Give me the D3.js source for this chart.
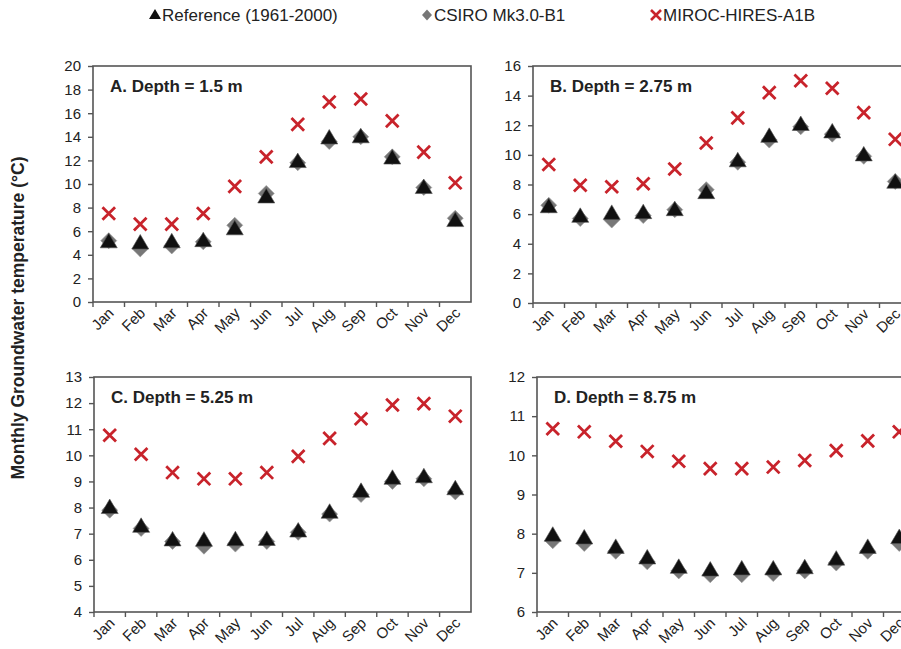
<!DOCTYPE html>
<html>
<head>
<meta charset="utf-8">
<script src="https://cdn.jsdelivr.net/npm/d3@7"></script>
<style>
  body { margin: 0; background: #fff; }
  svg text { font-family: "Liberation Sans", Arial, sans-serif; fill: #222; }
</style>
</head>
<body>
<div id="chart"></div>
<script>
var W = 901, H = 649;

// Data ======================================================
var months = ["Jan","Feb","Mar","Apr","May","Jun","Jul","Aug","Sep","Oct","Nov","Dec"];

var refA   = [5.1, 5.0, 5.1, 5.2, 6.2, 8.9, 11.9, 13.9, 14.0, 12.2, 9.7, 6.9];
var csiroA = [5.2, 4.5, 4.75, 5.1, 6.5, 9.2, 11.8, 13.6, 14.0, 12.3, 9.7, 7.1];
var mirocA = [7.5, 6.6, 6.6, 7.5, 9.8, 12.3, 15.05, 16.95, 17.2, 15.35, 12.7, 10.1];

var refB   = [6.5, 5.85, 6.05, 6.1, 6.3, 7.45, 9.6, 11.25, 12.05, 11.55, 10.0, 8.15];
var csiroB = [6.6, 5.7, 5.6, 5.9, 6.3, 7.65, 9.5, 11.0, 11.9, 11.4, 9.9, 8.2];
var mirocB = [9.35, 7.95, 7.85, 8.05, 9.05, 10.8, 12.5, 14.2, 15.0, 14.5, 12.85, 11.05];

var refC   = [8.0, 7.28, 6.76, 6.75, 6.77, 6.78, 7.1, 7.82, 8.62, 9.12, 9.18, 8.72];
var csiroC = [7.9, 7.2, 6.7, 6.52, 6.6, 6.7, 7.05, 7.75, 8.5, 9.0, 9.1, 8.6];
var mirocC = [10.77, 10.04, 9.34, 9.1, 9.1, 9.34, 9.96, 10.65, 11.4, 11.93, 11.98, 11.5];

var refD   = [7.96, 7.89, 7.65, 7.38, 7.14, 7.07, 7.1, 7.1, 7.13, 7.35, 7.65, 7.9];
var csiroD = [7.82, 7.75, 7.55, 7.28, 7.05, 6.95, 6.95, 6.98, 7.05, 7.25, 7.55, 7.75];
var mirocD = [10.68, 10.6, 10.36, 10.1, 9.85, 9.66, 9.66, 9.7, 9.87, 10.12, 10.37, 10.6];

var panels = [
  {title: "A. Depth = 1.5 m",  ymin: 0, ymax: 20, step: 2, ref: refA, csiro: csiroA, miroc: mirocA,
   x0: 93,  y0: 66,  x1: 471, y1: 302},
  {title: "B. Depth = 2.75 m", ymin: 0, ymax: 16, step: 2, ref: refB, csiro: csiroB, miroc: mirocB,
   x0: 533, y0: 66,  x1: 911, y1: 303},
  {title: "C. Depth = 5.25 m", ymin: 4, ymax: 13, step: 1, ref: refC, csiro: csiroC, miroc: mirocC,
   x0: 94,  y0: 377, x1: 471, y1: 612},
  {title: "D. Depth = 8.75 m", ymin: 6, ymax: 12, step: 1, ref: refD, csiro: csiroD, miroc: mirocD,
   x0: 537, y0: 377, x1: 915, y1: 612}
];

var legendItems = ["Reference (1961-2000)", "CSIRO Mk3.0-B1", "MIROC-HIRES-A1B"];
// ===========================================================

var svg = d3.select("#chart").append("svg")
  .attr("width", W).attr("height", H);

var axisColor = "#555";
var red = "#c8232b";
var triPath = "M0,-8.5L8.5,6L-8.5,6Z";
var diaPath = "M0,-8L8,0L0,8L-8,0Z";

function drawCross(g, x, y, s, sw) {
  g.append("path")
    .attr("d", "M" + (x - s) + "," + (y - s) + "L" + (x + s) + "," + (y + s) +
               "M" + (x - s) + "," + (y + s) + "L" + (x + s) + "," + (y - s))
    .attr("stroke", red).attr("stroke-width", sw).attr("fill", "none");
}

panels.forEach(function(p) {
  var g = svg.append("g");
  var x = d3.scaleBand().domain(months).range([p.x0, p.x1]);
  var y = d3.scaleLinear().domain([p.ymin, p.ymax]).range([p.y1, p.y0]);

  // frame
  g.append("rect")
    .attr("x", p.x0).attr("y", p.y0)
    .attr("width", p.x1 - p.x0).attr("height", p.y1 - p.y0)
    .attr("fill", "none").attr("stroke", axisColor).attr("stroke-width", 1.6);

  // y axis
  var yAxis = d3.axisLeft(y)
    .tickValues(d3.range(p.ymin, p.ymax + 0.001, p.step))
    .tickSize(5).tickPadding(7).tickFormat(d3.format("d"));
  var ya = g.append("g").attr("transform", "translate(" + p.x0 + ",0)").call(yAxis);
  ya.select(".domain").remove();
  ya.selectAll("line").attr("stroke", axisColor).attr("stroke-width", 1.4);
  ya.selectAll("text").style("font-size", "15px").attr("fill", "#222");

  // x ticks at band boundaries
  var bounds = months.map(function(m) { return x(m); });
  g.selectAll(".xt").data(bounds).enter().append("line")
    .attr("x1", function(d) { return d; }).attr("x2", function(d) { return d; })
    .attr("y1", p.y1).attr("y2", p.y1 + 5)
    .attr("stroke", axisColor).attr("stroke-width", 1.4);

  // month labels
  g.selectAll(".xl").data(months).enter().append("text")
    .attr("text-anchor", "end")
    .attr("transform", function(d) {
      var cx = x(d) + x.bandwidth() / 2 + 6;
      return "translate(" + cx + "," + (p.y1 + 12) + ") rotate(-45)";
    })
    .style("font-size", "15px")
    .text(function(d) { return d; });

  // title
  g.append("text")
    .attr("x", p.x0 + 17).attr("y", p.y0 + 26)
    .style("font-size", "17px").style("font-weight", "bold")
    .text(p.title);

  // marks
  var cx = function(i) { return x(months[i]) + x.bandwidth() / 2; };
  p.csiro.forEach(function(v, i) {
    g.append("path").attr("d", diaPath)
      .attr("transform", "translate(" + cx(i) + "," + y(v) + ")")
      .attr("fill", "#777").attr("stroke", "#999").attr("stroke-width", 0.6);
  });
  p.ref.forEach(function(v, i) {
    g.append("path").attr("d", triPath)
      .attr("transform", "translate(" + cx(i) + "," + y(v) + ")")
      .attr("fill", "#111").attr("stroke", "#555").attr("stroke-width", 0.6);
  });
  p.miroc.forEach(function(v, i) {
    drawCross(g, cx(i), y(v), 6.3, 2.8);
  });
});

// y axis title
svg.append("text")
  .attr("transform", "translate(24,318) rotate(-90)")
  .attr("text-anchor", "middle")
  .style("font-size", "17.5px").style("font-weight", "bold")
  .text("Monthly  Groundwater temperature (°C)");

// Legend
var lg = svg.append("g");
var lx = [155, 427, 656];
lg.append("path").attr("d", "M0,-6L6,4L-6,4Z").attr("fill", "#111")
  .attr("transform", "translate(" + lx[0] + ",15)");
lg.append("path").attr("d", "M0,-5.5L5,0L0,5.5L-5,0Z").attr("fill", "#777")
  .attr("transform", "translate(" + lx[1] + ",15)");
drawCross(lg, lx[2], 15, 5, 2.6);
legendItems.forEach(function(t, i) {
  lg.append("text").attr("x", lx[i] + 7).attr("y", 21)
    .style("font-size", "17px").text(t);
});
</script>
</body>
</html>
